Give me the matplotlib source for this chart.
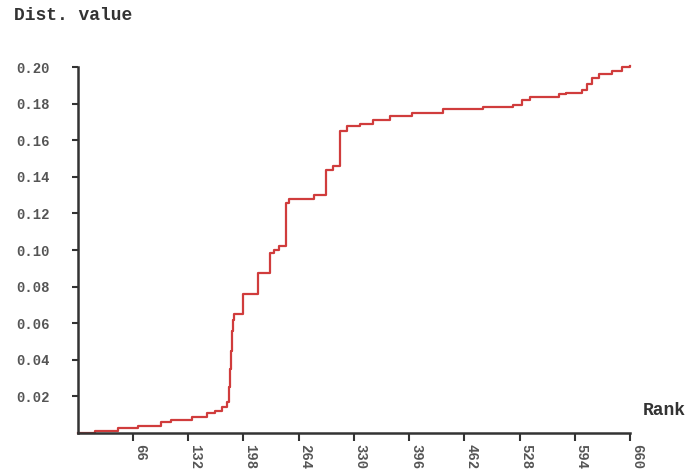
import matplotlib
matplotlib.use('Agg')
import matplotlib.pyplot as plt

# step breakpoints (rank where the level starts, value)
ranks = [0, 21, 48, 72, 100, 112, 136, 154, 164, 172, 178, 181, 182, 183, 184,
         185, 187, 197, 216, 230, 234, 240, 249, 252, 282, 297, 305, 314, 322,
         337, 353, 373, 400, 436, 484, 520, 531, 540, 575, 583, 603, 609, 615,
         623, 639, 651, 660]
values = [0.0, 0.001, 0.003, 0.004, 0.006, 0.007, 0.009, 0.0107, 0.012, 0.014,
          0.0167, 0.025, 0.035, 0.045, 0.056, 0.062, 0.065, 0.0757, 0.0875,
          0.0984, 0.100, 0.102, 0.1255, 0.128, 0.130, 0.144, 0.146, 0.165,
          0.1677, 0.169, 0.171, 0.173, 0.175, 0.177, 0.178, 0.1795, 0.182,
          0.1835, 0.185, 0.186, 0.1877, 0.1905, 0.194, 0.196, 0.1977, 0.200,
          0.2004]

x_ticks = [66, 132, 198, 264, 330, 396, 462, 528, 594, 660]
y_ticks = [0.02, 0.04, 0.06, 0.08, 0.10, 0.12, 0.14, 0.16, 0.18, 0.20]

mono = 'Liberation Mono'
fig = plt.figure(figsize=(6.98, 4.72), dpi=100)
ax = fig.add_axes([0.1113, 0.0826, 0.7913, 0.7754])

ax.step(ranks, values, where='post', color='#d03c3c', lw=1.6, clip_on=False)

ax.set_xlim(0, 660)
ax.set_ylim(0, 0.20)
for s in ['top', 'right']:
    ax.spines[s].set_visible(False)
for s in ['left', 'bottom']:
    ax.spines[s].set_color('#333333')
    ax.spines[s].set_linewidth(1.8)

ax.set_xticks(x_ticks)
ax.set_xticklabels([str(t) for t in x_ticks], rotation=-90, ha='left',
                   family=mono, weight='bold', size=10, color='#555555')
ax.set_yticks(y_ticks)
ax.set_yticklabels(['%.2f' % t for t in y_ticks], family=mono, weight='bold',
                   size=10, color='#555555')
ax.tick_params(axis='y', length=4, width=1.5, color='#333333', pad=16)
ax.tick_params(axis='x', length=6, width=1.5, color='#333333', pad=2)

fig.text(0.02, 0.968, 'Dist. value', family=mono, weight='bold', size=13,
         color='#333333', va='center', ha='left')
fig.text(0.982, 0.131, 'Rank', family=mono, weight='bold', size=13,
         color='#333333', va='center', ha='right')

fig.savefig('out.png', dpi=100, facecolor='white')
